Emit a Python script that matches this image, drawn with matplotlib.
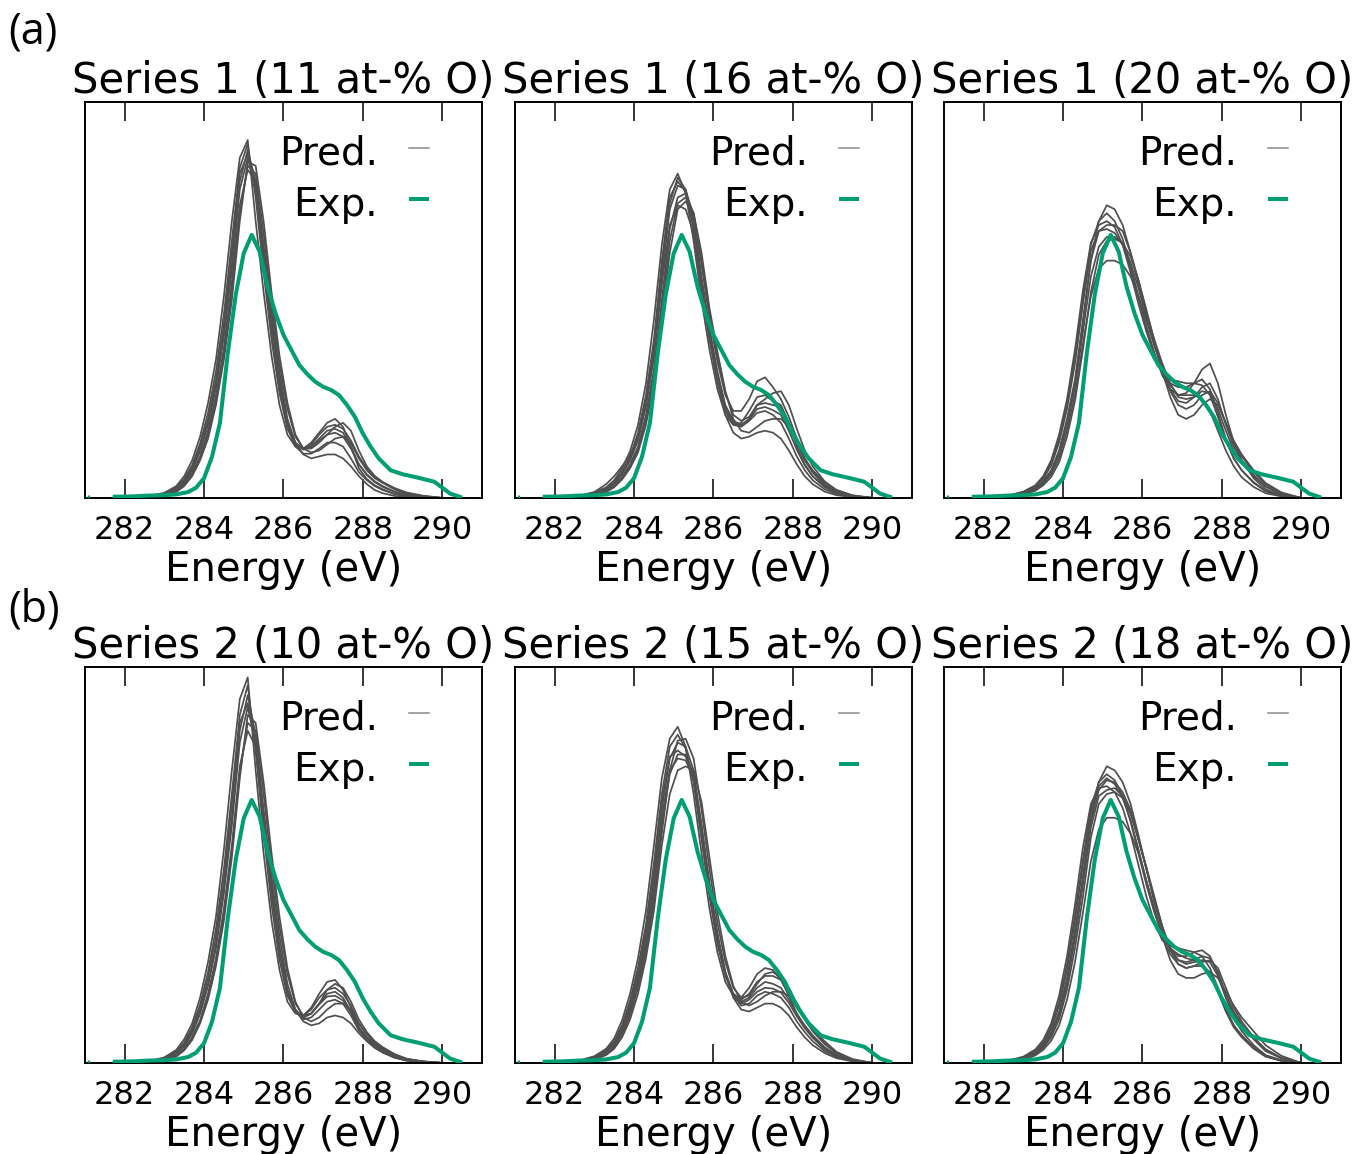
import numpy as np
import matplotlib
matplotlib.use('Agg')
import matplotlib.pyplot as plt

# ---------------------------------------------------------------
# data (intensity, arbitrary units 0..1)
# ---------------------------------------------------------------
E_PRED = [281.8, 282.5, 283.0, 283.3, 283.5, 283.7, 283.9, 284.1, 284.3, 284.5,
          284.7, 284.9, 285.1, 285.3, 285.5, 285.7, 285.9, 286.1, 286.3, 286.5,
          286.7, 286.9, 287.1, 287.3, 287.5, 287.7, 287.9, 288.1, 288.3, 288.5,
          288.8, 289.1, 289.5, 290.0]

# experimental spectrum (same in every panel); nan breaks the first lone point
E_EXP = [281.07, 281.13, 281.4, 281.7, 282.2, 282.6, 283.0, 283.3, 283.6, 283.8,
         284.0, 284.2, 284.4, 284.6, 284.8, 285.0, 285.2, 285.4, 285.6, 285.8,
         286.0, 286.2, 286.4, 286.6, 286.8, 287.0, 287.2, 287.4, 287.6, 287.8,
         288.0, 288.2, 288.4, 288.7, 289.0, 289.4, 289.8, 290.2, 290.5]
EXP = [0.001, 0.001, np.nan, 0.003, 0.004, 0.006, 0.007, 0.009, 0.015, 0.026,
       0.05, 0.104, 0.19, 0.368, 0.515, 0.619, 0.665, 0.623, 0.534, 0.467,
       0.412, 0.374, 0.336, 0.313, 0.294, 0.281, 0.273, 0.26, 0.235, 0.205,
       0.163, 0.129, 0.1, 0.07, 0.06, 0.051, 0.041, 0.011, 0.001]

pred_s1_11 = [
    [0, 0.002, 0.013, 0.03, 0.055, 0.095, 0.155, 0.24, 0.35, 0.51, 0.70, 0.86, 0.905, 0.70, 0.52, 0.36, 0.235, 0.16, 0.13, 0.125, 0.14, 0.165, 0.19, 0.2, 0.18, 0.13, 0.075, 0.048, 0.032, 0.022, 0.01, 0.005, 0.002, 0],
    [0, 0.001, 0.008, 0.022, 0.04, 0.072, 0.12, 0.19, 0.285, 0.42, 0.59, 0.80, 0.88, 0.80, 0.62, 0.45, 0.30, 0.19, 0.14, 0.125, 0.13, 0.15, 0.17, 0.175, 0.165, 0.13, 0.085, 0.06, 0.042, 0.03, 0.016, 0.008, 0.003, 0],
    [0, 0.0, 0.005, 0.015, 0.03, 0.055, 0.095, 0.15, 0.235, 0.35, 0.50, 0.70, 0.85, 0.84, 0.70, 0.52, 0.36, 0.24, 0.16, 0.125, 0.115, 0.12, 0.135, 0.15, 0.155, 0.14, 0.1, 0.07, 0.05, 0.038, 0.022, 0.012, 0.005, 0],
    [0, 0.001, 0.006, 0.018, 0.035, 0.063, 0.105, 0.17, 0.26, 0.38, 0.545, 0.74, 0.83, 0.80, 0.64, 0.47, 0.32, 0.2, 0.14, 0.11, 0.1, 0.105, 0.11, 0.11, 0.1, 0.08, 0.055, 0.035, 0.02, 0.012, 0.005, 0.002, 0.0, 0],
    [0, 0.002, 0.011, 0.027, 0.048, 0.083, 0.138, 0.215, 0.32, 0.465, 0.65, 0.835, 0.895, 0.76, 0.57, 0.4, 0.265, 0.175, 0.135, 0.125, 0.135, 0.16, 0.18, 0.185, 0.175, 0.145, 0.105, 0.075, 0.055, 0.04, 0.025, 0.014, 0.006, 0],
    [0, 0.001, 0.008, 0.022, 0.04, 0.07, 0.118, 0.185, 0.28, 0.41, 0.575, 0.78, 0.86, 0.78, 0.60, 0.43, 0.285, 0.18, 0.13, 0.112, 0.112, 0.125, 0.14, 0.14, 0.13, 0.1, 0.065, 0.045, 0.03, 0.02, 0.01, 0.004, 0.001, 0],
    [0, 0.001, 0.01, 0.025, 0.044, 0.078, 0.13, 0.2, 0.3, 0.44, 0.62, 0.82, 0.87, 0.78, 0.595, 0.425, 0.28, 0.182, 0.137, 0.122, 0.128, 0.145, 0.16, 0.165, 0.155, 0.125, 0.085, 0.058, 0.04, 0.028, 0.015, 0.007, 0.002, 0],
    [0, 0.001, 0.006, 0.017, 0.033, 0.06, 0.1, 0.16, 0.245, 0.365, 0.52, 0.72, 0.84, 0.82, 0.67, 0.495, 0.34, 0.225, 0.155, 0.125, 0.125, 0.14, 0.16, 0.18, 0.19, 0.17, 0.12, 0.08, 0.055, 0.04, 0.022, 0.01, 0.004, 0],
]

pred_s1_16 = [
    [0, 0.003, 0.014, 0.027, 0.045, 0.075, 0.118, 0.185, 0.29, 0.45, 0.64, 0.78, 0.82, 0.77, 0.65, 0.5, 0.375, 0.275, 0.21, 0.185, 0.19, 0.22, 0.255, 0.26, 0.245, 0.235, 0.19, 0.13, 0.085, 0.055, 0.028, 0.012, 0.004, 0],
    [0, 0.002, 0.01, 0.02, 0.035, 0.06, 0.095, 0.145, 0.235, 0.36, 0.555, 0.73, 0.79, 0.78, 0.71, 0.56, 0.43, 0.32, 0.235, 0.195, 0.185, 0.2, 0.235, 0.24, 0.235, 0.23, 0.19, 0.14, 0.095, 0.065, 0.035, 0.017, 0.005, 0],
    [0, 0.001, 0.007, 0.015, 0.027, 0.047, 0.075, 0.115, 0.185, 0.29, 0.45, 0.62, 0.73, 0.75, 0.72, 0.62, 0.48, 0.37, 0.27, 0.2, 0.17, 0.165, 0.18, 0.195, 0.2, 0.2, 0.18, 0.14, 0.1, 0.07, 0.04, 0.02, 0.007, 0],
    [0, 0.002, 0.009, 0.018, 0.031, 0.053, 0.085, 0.13, 0.21, 0.325, 0.5, 0.68, 0.76, 0.77, 0.72, 0.59, 0.455, 0.345, 0.26, 0.22, 0.22, 0.25, 0.295, 0.305, 0.28, 0.25, 0.205, 0.15, 0.1, 0.065, 0.032, 0.015, 0.005, 0],
    [0, 0.002, 0.015, 0.035, 0.055, 0.08, 0.11, 0.15, 0.232, 0.355, 0.54, 0.69, 0.74, 0.73, 0.67, 0.53, 0.405, 0.295, 0.21, 0.165, 0.15, 0.155, 0.165, 0.17, 0.165, 0.15, 0.12, 0.085, 0.055, 0.035, 0.016, 0.007, 0.002, 0],
    [0, 0.002, 0.012, 0.024, 0.04, 0.067, 0.105, 0.165, 0.26, 0.4, 0.6, 0.76, 0.80, 0.775, 0.68, 0.53, 0.4, 0.295, 0.22, 0.185, 0.18, 0.195, 0.215, 0.22, 0.21, 0.19, 0.15, 0.105, 0.07, 0.045, 0.022, 0.01, 0.003, 0],
    [0, 0.002, 0.011, 0.022, 0.038, 0.064, 0.1, 0.155, 0.248, 0.38, 0.58, 0.745, 0.81, 0.78, 0.695, 0.545, 0.415, 0.308, 0.228, 0.19, 0.183, 0.198, 0.225, 0.23, 0.222, 0.21, 0.17, 0.122, 0.082, 0.055, 0.028, 0.013, 0.004, 0],
    [0, 0.001, 0.008, 0.016, 0.029, 0.05, 0.08, 0.122, 0.198, 0.308, 0.475, 0.65, 0.745, 0.76, 0.72, 0.605, 0.47, 0.36, 0.268, 0.21, 0.195, 0.205, 0.235, 0.25, 0.265, 0.27, 0.235, 0.175, 0.12, 0.08, 0.042, 0.02, 0.006, 0],
]

pred_s1_20 = [
    [0, 0.002, 0.012, 0.025, 0.042, 0.07, 0.12, 0.2, 0.3, 0.45, 0.6, 0.675, 0.69, 0.69, 0.675, 0.62, 0.55, 0.47, 0.40, 0.34, 0.29, 0.255, 0.25, 0.255, 0.27, 0.265, 0.225, 0.17, 0.12, 0.09, 0.055, 0.028, 0.01, 0],
    [0, 0.002, 0.011, 0.023, 0.04, 0.067, 0.115, 0.19, 0.29, 0.44, 0.6, 0.70, 0.74, 0.73, 0.69, 0.62, 0.54, 0.46, 0.39, 0.33, 0.285, 0.26, 0.265, 0.29, 0.325, 0.34, 0.29, 0.21, 0.14, 0.095, 0.05, 0.022, 0.007, 0],
    [0, 0.003, 0.016, 0.032, 0.055, 0.095, 0.16, 0.25, 0.375, 0.525, 0.645, 0.69, 0.70, 0.685, 0.64, 0.57, 0.49, 0.42, 0.36, 0.315, 0.30, 0.295, 0.29, 0.29, 0.285, 0.26, 0.205, 0.145, 0.1, 0.07, 0.04, 0.018, 0.006, 0],
    [0, 0.001, 0.008, 0.018, 0.032, 0.053, 0.09, 0.155, 0.245, 0.375, 0.52, 0.615, 0.65, 0.655, 0.645, 0.61, 0.55, 0.475, 0.395, 0.32, 0.255, 0.21, 0.2, 0.21, 0.235, 0.25, 0.235, 0.19, 0.14, 0.105, 0.065, 0.035, 0.012, 0],
    [0, 0.002, 0.01, 0.021, 0.036, 0.06, 0.1, 0.17, 0.26, 0.39, 0.51, 0.58, 0.60, 0.60, 0.59, 0.56, 0.51, 0.45, 0.385, 0.325, 0.27, 0.235, 0.225, 0.235, 0.26, 0.27, 0.24, 0.19, 0.145, 0.11, 0.07, 0.038, 0.014, 0],
    [0, 0.002, 0.014, 0.028, 0.048, 0.082, 0.14, 0.225, 0.34, 0.49, 0.625, 0.675, 0.68, 0.67, 0.64, 0.585, 0.51, 0.435, 0.365, 0.31, 0.275, 0.26, 0.26, 0.26, 0.25, 0.22, 0.17, 0.12, 0.08, 0.052, 0.028, 0.012, 0.004, 0],
    [0, 0.002, 0.011, 0.023, 0.039, 0.065, 0.11, 0.185, 0.28, 0.42, 0.56, 0.635, 0.66, 0.66, 0.645, 0.595, 0.53, 0.455, 0.385, 0.325, 0.275, 0.245, 0.24, 0.255, 0.28, 0.29, 0.25, 0.185, 0.13, 0.095, 0.058, 0.03, 0.01, 0],
    [0, 0.003, 0.015, 0.03, 0.051, 0.088, 0.15, 0.238, 0.36, 0.51, 0.64, 0.70, 0.72, 0.70, 0.655, 0.585, 0.505, 0.43, 0.365, 0.315, 0.29, 0.28, 0.28, 0.29, 0.3, 0.275, 0.215, 0.15, 0.1, 0.07, 0.038, 0.017, 0.005, 0],
]

pred_s2_10 = [
    [0, 0.002, 0.014, 0.033, 0.06, 0.1, 0.165, 0.255, 0.37, 0.54, 0.74, 0.92, 0.975, 0.74, 0.53, 0.36, 0.235, 0.155, 0.125, 0.12, 0.14, 0.175, 0.205, 0.21, 0.185, 0.14, 0.09, 0.06, 0.04, 0.028, 0.014, 0.006, 0.002, 0],
    [0, 0.001, 0.009, 0.024, 0.044, 0.077, 0.128, 0.2, 0.3, 0.44, 0.62, 0.84, 0.93, 0.83, 0.63, 0.45, 0.295, 0.185, 0.135, 0.115, 0.125, 0.15, 0.175, 0.18, 0.165, 0.13, 0.09, 0.065, 0.046, 0.033, 0.018, 0.008, 0.003, 0],
    [0, 0.0, 0.006, 0.016, 0.032, 0.058, 0.1, 0.16, 0.245, 0.36, 0.52, 0.72, 0.88, 0.86, 0.71, 0.53, 0.37, 0.24, 0.155, 0.115, 0.105, 0.115, 0.135, 0.15, 0.15, 0.135, 0.1, 0.072, 0.052, 0.038, 0.022, 0.011, 0.004, 0],
    [0, 0.001, 0.007, 0.019, 0.036, 0.065, 0.108, 0.175, 0.265, 0.39, 0.55, 0.75, 0.84, 0.80, 0.64, 0.47, 0.32, 0.2, 0.135, 0.105, 0.095, 0.1, 0.115, 0.12, 0.115, 0.1, 0.075, 0.055, 0.038, 0.026, 0.013, 0.006, 0.002, 0],
    [0, 0.002, 0.012, 0.029, 0.052, 0.09, 0.148, 0.23, 0.34, 0.49, 0.68, 0.88, 0.955, 0.79, 0.58, 0.4, 0.26, 0.17, 0.13, 0.12, 0.135, 0.165, 0.185, 0.19, 0.175, 0.145, 0.1, 0.072, 0.05, 0.036, 0.02, 0.01, 0.004, 0],
    [0, 0.001, 0.009, 0.023, 0.042, 0.074, 0.124, 0.195, 0.29, 0.43, 0.6, 0.81, 0.9, 0.81, 0.62, 0.44, 0.29, 0.18, 0.13, 0.11, 0.115, 0.135, 0.155, 0.16, 0.15, 0.12, 0.082, 0.058, 0.04, 0.028, 0.015, 0.007, 0.002, 0],
    [0, 0.001, 0.011, 0.027, 0.048, 0.083, 0.138, 0.215, 0.32, 0.465, 0.655, 0.86, 0.91, 0.80, 0.6, 0.425, 0.278, 0.178, 0.13, 0.115, 0.125, 0.148, 0.168, 0.17, 0.158, 0.128, 0.088, 0.063, 0.045, 0.032, 0.017, 0.008, 0.003, 0],
    [0, 0.001, 0.007, 0.018, 0.034, 0.062, 0.104, 0.167, 0.255, 0.375, 0.535, 0.735, 0.86, 0.84, 0.68, 0.5, 0.345, 0.225, 0.15, 0.12, 0.125, 0.15, 0.185, 0.2, 0.19, 0.155, 0.11, 0.078, 0.055, 0.04, 0.022, 0.01, 0.004, 0],
]

pred_s2_15 = [
    [0, 0.003, 0.017, 0.036, 0.062, 0.108, 0.175, 0.265, 0.385, 0.55, 0.72, 0.82, 0.85, 0.80, 0.68, 0.53, 0.39, 0.28, 0.205, 0.17, 0.165, 0.19, 0.225, 0.24, 0.235, 0.21, 0.17, 0.125, 0.09, 0.065, 0.035, 0.016, 0.005, 0],
    [0, 0.002, 0.012, 0.028, 0.048, 0.085, 0.14, 0.22, 0.32, 0.46, 0.64, 0.77, 0.81, 0.80, 0.74, 0.60, 0.45, 0.32, 0.23, 0.175, 0.155, 0.165, 0.19, 0.205, 0.2, 0.19, 0.16, 0.125, 0.095, 0.07, 0.04, 0.02, 0.006, 0],
    [0, 0.001, 0.008, 0.02, 0.036, 0.065, 0.11, 0.175, 0.265, 0.385, 0.55, 0.68, 0.74, 0.75, 0.74, 0.66, 0.52, 0.38, 0.27, 0.195, 0.155, 0.145, 0.155, 0.17, 0.18, 0.18, 0.17, 0.14, 0.11, 0.085, 0.055, 0.028, 0.01, 0],
    [0, 0.002, 0.01, 0.024, 0.042, 0.075, 0.125, 0.2, 0.29, 0.42, 0.6, 0.73, 0.78, 0.78, 0.73, 0.6, 0.455, 0.33, 0.23, 0.165, 0.135, 0.13, 0.14, 0.15, 0.15, 0.14, 0.12, 0.09, 0.065, 0.045, 0.025, 0.012, 0.004, 0],
    [0, 0.002, 0.014, 0.032, 0.055, 0.096, 0.158, 0.242, 0.35, 0.505, 0.68, 0.80, 0.83, 0.795, 0.71, 0.565, 0.42, 0.3, 0.22, 0.175, 0.16, 0.175, 0.205, 0.22, 0.22, 0.21, 0.19, 0.15, 0.115, 0.085, 0.05, 0.025, 0.008, 0],
    [0, 0.002, 0.011, 0.026, 0.045, 0.08, 0.132, 0.21, 0.305, 0.44, 0.62, 0.74, 0.77, 0.765, 0.72, 0.59, 0.445, 0.32, 0.225, 0.17, 0.145, 0.15, 0.17, 0.18, 0.175, 0.165, 0.14, 0.105, 0.078, 0.055, 0.03, 0.015, 0.005, 0],
    [0, 0.002, 0.013, 0.03, 0.051, 0.09, 0.148, 0.232, 0.335, 0.48, 0.66, 0.775, 0.79, 0.775, 0.715, 0.58, 0.435, 0.31, 0.222, 0.17, 0.15, 0.16, 0.18, 0.19, 0.188, 0.178, 0.152, 0.118, 0.088, 0.064, 0.036, 0.018, 0.006, 0],
    [0, 0.001, 0.009, 0.022, 0.04, 0.072, 0.12, 0.19, 0.28, 0.405, 0.58, 0.74, 0.815, 0.82, 0.77, 0.64, 0.49, 0.355, 0.255, 0.19, 0.165, 0.17, 0.2, 0.225, 0.23, 0.215, 0.185, 0.145, 0.11, 0.08, 0.048, 0.024, 0.008, 0],
]

pred_s2_18 = [
    [0, 0.002, 0.012, 0.027, 0.045, 0.078, 0.13, 0.215, 0.335, 0.47, 0.61, 0.69, 0.715, 0.71, 0.685, 0.64, 0.565, 0.49, 0.41, 0.34, 0.285, 0.26, 0.25, 0.255, 0.26, 0.255, 0.22, 0.165, 0.125, 0.095, 0.06, 0.03, 0.012, 0],
    [0, 0.002, 0.011, 0.025, 0.042, 0.073, 0.122, 0.205, 0.325, 0.465, 0.62, 0.71, 0.75, 0.74, 0.71, 0.655, 0.575, 0.49, 0.405, 0.335, 0.29, 0.27, 0.27, 0.28, 0.285, 0.27, 0.225, 0.165, 0.115, 0.08, 0.045, 0.02, 0.007, 0],
    [0, 0.003, 0.016, 0.034, 0.058, 0.1, 0.17, 0.27, 0.4, 0.545, 0.655, 0.695, 0.70, 0.685, 0.645, 0.58, 0.5, 0.42, 0.355, 0.31, 0.295, 0.29, 0.285, 0.28, 0.27, 0.24, 0.19, 0.135, 0.095, 0.07, 0.04, 0.018, 0.006, 0],
    [0, 0.001, 0.008, 0.019, 0.033, 0.056, 0.095, 0.16, 0.255, 0.38, 0.51, 0.59, 0.62, 0.62, 0.61, 0.58, 0.53, 0.46, 0.39, 0.32, 0.26, 0.225, 0.215, 0.215, 0.225, 0.23, 0.215, 0.18, 0.145, 0.115, 0.08, 0.045, 0.018, 0],
    [0, 0.002, 0.01, 0.022, 0.038, 0.065, 0.11, 0.185, 0.29, 0.42, 0.57, 0.655, 0.68, 0.685, 0.67, 0.63, 0.565, 0.495, 0.42, 0.345, 0.285, 0.25, 0.24, 0.245, 0.255, 0.26, 0.24, 0.19, 0.14, 0.105, 0.065, 0.035, 0.013, 0],
    [0, 0.002, 0.013, 0.029, 0.05, 0.086, 0.145, 0.235, 0.36, 0.5, 0.635, 0.7, 0.72, 0.705, 0.67, 0.615, 0.54, 0.46, 0.385, 0.32, 0.275, 0.25, 0.24, 0.245, 0.245, 0.23, 0.185, 0.135, 0.095, 0.068, 0.038, 0.017, 0.006, 0],
    [0, 0.002, 0.011, 0.025, 0.042, 0.072, 0.12, 0.2, 0.315, 0.45, 0.595, 0.675, 0.69, 0.695, 0.675, 0.635, 0.565, 0.49, 0.415, 0.345, 0.29, 0.26, 0.255, 0.26, 0.27, 0.265, 0.23, 0.175, 0.13, 0.098, 0.062, 0.032, 0.012, 0],
    [0, 0.002, 0.014, 0.031, 0.053, 0.092, 0.155, 0.25, 0.375, 0.515, 0.645, 0.71, 0.73, 0.715, 0.675, 0.61, 0.53, 0.45, 0.38, 0.325, 0.29, 0.275, 0.265, 0.26, 0.25, 0.225, 0.18, 0.13, 0.09, 0.065, 0.036, 0.016, 0.005, 0],
]

titles = ['Series 1 (11 at-% O)', 'Series 1 (16 at-% O)', 'Series 1 (20 at-% O)',
          'Series 2 (10 at-% O)', 'Series 2 (15 at-% O)', 'Series 2 (18 at-% O)']
preds = [pred_s1_11, pred_s1_16, pred_s1_20, pred_s2_10, pred_s2_15, pred_s2_18]
x_ticks = [282, 284, 286, 288, 290]

# ---------------------------------------------------------------
# figure
# ---------------------------------------------------------------
GRAY = '#4f4f4f'
GREEN = '#009e73'
plt.rcParams['font.family'] = 'DejaVu Sans'

fig = plt.figure(figsize=(13.53, 11.54), dpi=100)

lefts = [0.0628, 0.3806, 0.6977]
bottoms = [0.5685, 0.0789]
w, h = 0.2934, 0.3427

for k, (title, pred) in enumerate(zip(titles, preds)):
    r, c = divmod(k, 3)
    ax = fig.add_axes([lefts[c], bottoms[r], w, h])

    for curve in pred:
        assert len(curve) == len(E_PRED)
        ax.plot(E_PRED, curve, color=GRAY, lw=1.25, zorder=2)
    ax.plot(E_EXP, EXP, color=GREEN, lw=2.9, zorder=3,
            solid_capstyle='butt')

    ax.set_xlim(281, 291)
    ax.set_ylim(0, 1)
    ax.set_xticks(x_ticks)
    ax.set_yticks([])
    ax.tick_params(axis='x', direction='in', length=14, width=1.1,
                   top=True, labelsize=23, pad=12)
    for s in ax.spines.values():
        s.set_linewidth(1.4)
    ax.set_xlabel('Energy (eV)', fontsize=29, labelpad=3)
    ax.set_title(title, fontsize=30, pad=7)

    # gnuplot-like key: text right-justified, sample to the right
    ax.text(0.738, 0.843, 'Pred.', transform=ax.transAxes, ha='right',
            va='baseline', fontsize=28)
    ax.text(0.738, 0.713, 'Exp.', transform=ax.transAxes, ha='right',
            va='baseline', fontsize=28)
    ax.plot([0.817, 0.867], [0.884, 0.884], transform=ax.transAxes,
            color='#8a8a8a', lw=1.1)
    ax.plot([0.817, 0.867], [0.755, 0.755], transform=ax.transAxes,
            color=GREEN, lw=2.9, solid_capstyle='butt')

fig.text(0.006, 0.972, '(a)', fontsize=31, family='Open Sans', va='center')
fig.text(0.006, 0.471, '(b)', fontsize=31, family='Open Sans', va='center')

fig.savefig('out.png', dpi=100)
